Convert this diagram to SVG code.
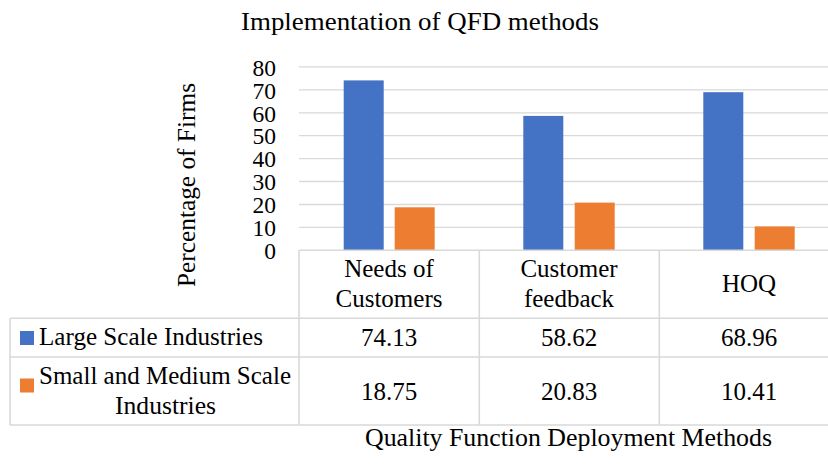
<svg xmlns="http://www.w3.org/2000/svg" width="828" height="464" viewBox="0 0 828 464" font-family="'Liberation Serif', 'DejaVu Serif', serif">
<style>
text{font-family:'Liberation Serif','Times New Roman',serif;font-size:25px;fill:#000}
.y{font-size:23.5px}
.m{text-anchor:middle}
.e{text-anchor:end}
.grid{stroke:#d9d9d9;stroke-width:1.3;fill:none}
.tbl{stroke:#d9d9d9;stroke-width:1.6;fill:none}
.b{fill:#4472C4}
.o{fill:#ED7D31}
</style>
<rect width="828" height="464" fill="#fff"/>
<g id="title"><text class="m" x="420" y="30" textLength="358" lengthAdjust="spacingAndGlyphs">Implementation of QFD methods</text></g>
<g id="gridlines" class="grid">
<path d="M299 227.4H828M299 204.5H828M299 181.5H828M299 158.6H828M299 135.7H828M299 112.8H828M299 89.9H828M299 66.9H828"/>
</g>
<g id="y-axis-labels">
<text class="e y" x="276" y="259">0</text>
<text class="e y" x="276" y="236.1">10</text>
<text class="e y" x="276" y="213.2">20</text>
<text class="e y" x="276" y="190.2">30</text>
<text class="e y" x="276" y="167.3">40</text>
<text class="e y" x="276" y="144.4">50</text>
<text class="e y" x="276" y="121.5">60</text>
<text class="e y" x="276" y="98.6">70</text>
<text class="e y" x="276" y="75.6">80</text>
</g>
<g id="y-axis-title"><text class="m" transform="translate(195,185) rotate(-90)" textLength="204" lengthAdjust="spacingAndGlyphs">Percentage of Firms</text></g>
<g id="bars-large">
<rect class="b" x="343.7" y="80.4" width="40" height="169.9"/>
<rect class="b" x="523.3" y="115.9" width="40" height="134.4"/>
<rect class="b" x="703.3" y="92.2" width="40" height="158.1"/>
</g>
<g id="bars-sme">
<rect class="o" x="394.7" y="207.3" width="40" height="43"/>
<rect class="o" x="574.7" y="202.6" width="40" height="47.7"/>
<rect class="o" x="754.7" y="226.4" width="40" height="23.9"/>
</g>
<g id="table-lines" class="tbl">
<path d="M299 250.3H828M299 250.3V425M479.3 250.3V425M659.3 250.3V425M10 318.3H828M10 357H828M10 425H828M10 318.3V425"/>
</g>
<g id="table-header">
<text class="m" x="389" y="277">Needs of</text>
<text class="m" x="389" y="307">Customers</text>
<text class="m" x="569" y="277">Customer</text>
<text class="m" x="569" y="307">feedback</text>
<text class="m" x="749" y="292">HOQ</text>
</g>
<g id="row-large">
<rect class="b" x="20" y="331" width="14" height="14"/>
<text x="39" y="345" textLength="224" lengthAdjust="spacingAndGlyphs">Large Scale Industries</text>
<text class="m" x="389" y="346">74.13</text>
<text class="m" x="569" y="346">58.62</text>
<text class="m" x="749" y="346">68.96</text>
</g>
<g id="row-sme">
<rect class="o" x="20" y="378.5" width="14" height="14"/>
<text x="39" y="383.5" textLength="252" lengthAdjust="spacingAndGlyphs">Small and Medium Scale</text>
<text class="m" x="165.5" y="414" textLength="101" lengthAdjust="spacingAndGlyphs">Industries</text>
<text class="m" x="389" y="400">18.75</text>
<text class="m" x="569" y="400">20.83</text>
<text class="m" x="749" y="400">10.41</text>
</g>
<g id="x-axis-title"><text class="m" x="568.5" y="446" textLength="407" lengthAdjust="spacingAndGlyphs">Quality Function Deployment Methods</text></g>
</svg>
